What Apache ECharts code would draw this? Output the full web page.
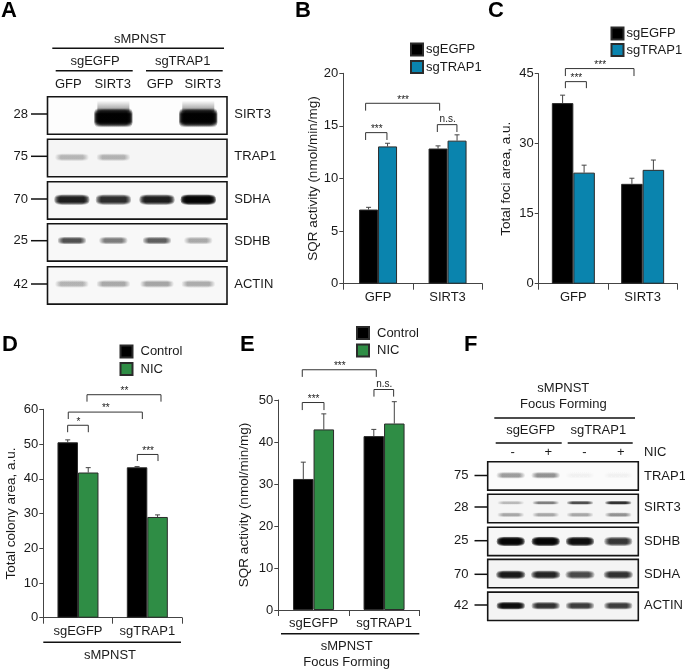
<!DOCTYPE html>
<html><head><meta charset="utf-8">
<style>html,body{margin:0;padding:0;background:#fff}#c{width:685px;height:670px;filter:blur(0.45px)}</style>
<script src="https://cdn.jsdelivr.net/npm/echarts@6/dist/echarts.min.js"></script>
</head><body><div id="c"></div>
<script>
// ---------- data ----------
const gfpSirt3 = ['GFP', 'SIRT3'];
const guides = ['sgEGFP', 'sgTRAP1'];

const bEgfp = [7.05, 12.85];
const bTrap = [13.05, 13.6];
const bEgfpTop = [7.26, 13.1];
const bTrapTop = [13.35, 14.15];
const bBrackets = [[0.321, 1.386, 17.15, 16.45, '***'], [0.321, 0.628, 14.36, 13.66, '***'], [1.353, 1.635, 15.12, 14.42, 'n.s.']];

const cEgfp = [38.7, 21.4];
const cTrap = [23.8, 24.4];
const cEgfpTop = [40.4, 22.6];
const cTrapTop = [25.4, 26.5];
const cBrackets = [[0.385, 1.375, 46.1, 44.5, '***'], [0.385, 0.688, 43.3, 41.9, '***']];

const dControl = [50.5, 43.3];
const dNic = [41.8, 29.0];
const dControlTop = [51.2, 43.5];
const dNicTop = [43.2, 29.6];
const dBrackets = [[0.63, 1.697, 64.2, 62.2, '**'], [0.36, 1.428, 59.2, 57.2, '**'], [0.351, 0.649, 55.4, 53.4, '*'], [1.356, 1.654, 47.0, 45.1, '***']];

const eControl = [31.2, 41.4];
const eNic = [43.0, 44.4];
const eControlTop = [35.2, 43.0];
const eNicTop = [46.7, 49.6];
const eBrackets = [[0.34, 1.39, 57.2, 55.5, '***'], [0.34, 0.648, 49.4, 47.6, '***'], [1.357, 1.636, 52.5, 50.8, 'n.s.']];

// western blot band intensities per lane (0..1)
const aProteins = ['SIRT3', 'TRAP1', 'SDHA', 'SDHB', 'ACTIN'];
const aMarkers = ['28', '75', '70', '25', '42'];
const aSirt3 = [0, 1, 0, 1];
const aTrap1 = [0.26, 0.28, 0, 0];
const aSdha = [0.88, 0.82, 0.88, 0.98];
const aSdhb = [0.68, 0.5, 0.62, 0.32];
const aActin = [0.27, 0.32, 0.34, 0.3];

const fProteins = ['TRAP1', 'SIRT3', 'SDHB', 'SDHA', 'ACTIN'];
const fMarkers = ['75', '28', '25', '70', '42'];
const fTrap1 = [0.38, 0.42, 0.03, 0.03];
const fSirt3Upper = [0.25, 0.48, 0.68, 0.8];
const fSirt3Lower = [0.32, 0.32, 0.32, 0.4];
const fSdhb = [0.98, 0.98, 0.95, 0.78];
const fSdha = [0.9, 0.85, 0.7, 0.8];
const fActin = [0.95, 0.8, 0.75, 0.75];

// ---------- layout + styles ----------
const FONT = '"Liberation Sans", Arial, sans-serif';
const BLACK = '#000000', TEAL = '#0a84ae', GREEN = '#2f8d45', INK = '#1a1a1a', AXIS = '#444';
const grids = [], xAxes = [], yAxes = [], series = [], legends = [], gfx = [];

function text(x, y, s, o) {
  gfx.push({type: 'text', x, y, silent: true, style: Object.assign({text: s, fill: INK, font: '13px ' + FONT, textAlign: 'center', textVerticalAlign: 'middle'}, o || {})});
}
function line(x1, y1, x2, y2, w, c) {
  gfx.push({type: 'line', silent: true, shape: {x1, y1, x2, y2}, style: {stroke: c || '#111', lineWidth: w || 1.5}});
}
function barPanel(p) {
  const gi = grids.length, xi = xAxes.length, yi = yAxes.length;
  grids.push({left: p.left, top: p.top, width: p.width, height: p.height});
  xAxes.push({gridIndex: gi, type: 'category', data: p.cats, axisLine: {show: true, lineStyle: {color: AXIS, width: 1}},
    axisTick: {show: true, length: 6, lineStyle: {color: AXIS}}, axisLabel: {interval: 0, hideOverlap: false, color: INK, fontSize: 13, fontFamily: FONT, margin: p.labelMargin}});
  xAxes.push({gridIndex: gi, type: 'value', min: 0, max: 2, show: false});
  yAxes.push({gridIndex: gi, type: 'value', min: 0, max: p.max, interval: p.interval, name: p.name, nameLocation: 'middle', nameGap: p.nameGap,
    nameTextStyle: {color: INK, fontSize: 13.5, fontFamily: FONT},
    splitLine: {show: false}, axisLine: {show: true, onZero: false, lineStyle: {color: AXIS, width: 1}}, axisTick: {show: true, length: 4, lineStyle: {color: AXIS}},
    axisLabel: {color: INK, fontSize: 13, fontFamily: FONT, margin: 5}});
  p.bars.forEach((b, k) => {
    series.push({type: 'bar', name: b.name, xAxisIndex: xi, yAxisIndex: yi, data: b.values, barWidth: p.barWidth, barGap: 0,
      itemStyle: {color: b.color, borderColor: '#2b2b2b', borderWidth: 1}, z: 2});
    const sign = k === 0 ? -1 : 1;
    series.push({type: 'custom', name: b.name + ' err', xAxisIndex: xi, yAxisIndex: yi, silent: true, z: 1,
      data: b.tops.map((t, i) => [i, t, b.values[i]]), encode: {x: 0, y: 1},
      renderItem(params, api) {
        const top = api.coord([api.value(0), api.value(1)]), base = api.coord([api.value(0), api.value(2)]);
        const x = top[0] + sign * p.barWidth / 2;
        const st = {stroke: '#444', lineWidth: 1, fill: null};
        return {type: 'group', children: [
          {type: 'line', shape: {x1: x, y1: top[1], x2: x, y2: base[1]}, style: st},
          {type: 'line', shape: {x1: x - 2.5, y1: top[1], x2: x + 2.5, y2: top[1]}, style: st}]};
      }});
  });
  series.push({type: 'custom', name: 'brackets', xAxisIndex: xi + 1, yAxisIndex: yi, silent: true, z: 3,
    data: p.brackets.map(b => [b[0], b[2], b[1], b[3]]), encode: {x: 0, y: 1},
    renderItem(params, api) {
      const b = p.brackets[params.dataIndex];
      const a = api.coord([b[0], b[2]]), c = api.coord([b[1], b[2]]), d = api.coord([b[0], b[3]]);
      const ns = b[4] === 'n.s.';
      return {type: 'group', children: [
        {type: 'polyline', shape: {points: [[a[0], d[1]], a, c, [c[0], d[1]]]}, style: {stroke: '#333', lineWidth: 1, fill: null}},
        {type: 'text', style: {text: b[4], x: (a[0] + c[0]) / 2 + 0.5, y: a[1] + (ns ? -5 : -3.5), fill: INK, font: '10px ' + FONT, textAlign: 'center', textVerticalAlign: 'middle'}}]};
    }});
  legends.push(Object.assign({data: p.bars.map(b => ({name: b.name, icon: 'rect'})), orient: 'vertical', padding: 0, itemWidth: 12, itemHeight: 12, itemGap: p.legendGap, selectedMode: false,
    textStyle: {color: INK, fontSize: 13, fontFamily: FONT, padding: [0, 0, 0, p.legendPad]}}, p.legend));
}
function blot(box, layers, lanes, bg) {
  const gi = grids.length, xi = xAxes.length, yi = yAxes.length;
  grids.push({show: true, left: box[0], top: box[1], width: box[2], height: box[3], borderColor: '#141414', borderWidth: 1.6, backgroundColor: bg || '#fbfbfb'});
  xAxes.push({gridIndex: gi, type: 'value', min: 0, max: 1, show: false});
  yAxes.push({gridIndex: gi, type: 'value', min: 0, max: 1, show: false});
  const G = echarts.graphic.LinearGradient;
  layers.forEach(l => {
    series.push({type: 'custom', name: 'band', xAxisIndex: xi, yAxisIndex: yi, silent: true, z: 2,
      data: l.v.map((v, i) => [lanes[i], l.y, v]), encode: {x: 0, y: 1},
      renderItem(params, api) {
        const c = api.coord([api.value(0), api.value(1)]), v = api.value(2);
        if (v <= 0) return {type: 'group', children: []};
        const w = l.w, h = l.h, kids = [];
        const N = 5;
        const a = 1 - Math.pow(1 - Math.min(v, 0.995), 1 / N);
        const rgba = al => 'rgba(0,0,0,' + al + ')';
        if (h > 12) {
          kids.push({type: 'rect', shape: {x: c[0] - w / 2 + 3, y: c[1] - h / 2 - 7, width: w - 6, height: 11},
            style: {fill: new G(0, 0, 0, 1, [{offset: 0, color: rgba(0)}, {offset: 1, color: rgba(0.45)}])}});
        }
        for (let k = 0; k < N; k++) {
          const ww = w - k * 2.4, hh = h - k * (h > 12 ? 0.6 : 0);
          kids.push({type: 'rect', shape: {x: c[0] - ww / 2, y: c[1] - hh / 2, width: ww, height: hh, r: Math.min(hh / 2, 5)},
            style: {fill: new G(0, 0, 0, 1, [{offset: 0, color: rgba(0)}, {offset: 0.32, color: rgba(a)}, {offset: 0.68, color: rgba(a)}, {offset: 1, color: rgba(0)}])}});
        }
        return {type: 'group', children: kids};
      }});
  });
}

// ---------- panel letters ----------
[['A', 1, 10.5], ['B', 295, 10.5], ['C', 488, 10.5], ['D', 2, 345], ['E', 240, 344.5], ['F', 464, 345]].forEach(l =>
  text(l[1], l[2], l[0], {font: 'bold 22px ' + FONT, textAlign: 'left', fill: '#000'}));

// ---------- panels B-E ----------
barPanel({left: 343.3, top: 73.3, width: 139, height: 210.4, cats: gfpSirt3, max: 20, interval: 5, name: 'SQR activity (nmol/min/mg)', nameGap: 21.5, barWidth: 19, labelMargin: 7, brackets: bBrackets,
  bars: [{name: 'sgEGFP', color: BLACK, values: bEgfp, tops: bEgfpTop}, {name: 'sgTRAP1', color: TEAL, values: bTrap, tops: bTrapTop}],
  legendPad: -2, legendGap: 3.5, legend: {left: 410, top: 42.5}});
barPanel({left: 538.7, top: 73.7, width: 138.6, height: 210, cats: gfpSirt3, max: 45, interval: 15, name: 'Total foci area, a.u.', nameGap: 25, barWidth: 21.5, labelMargin: 7, brackets: cBrackets,
  bars: [{name: 'sgEGFP', color: BLACK, values: cEgfp, tops: cEgfpTop}, {name: 'sgTRAP1', color: TEAL, values: cTrap, tops: cTrapTop}],
  legendPad: -2, legendGap: 2.5, legend: {left: 610.5, top: 26.5}});
barPanel({left: 43.3, top: 409.3, width: 138.7, height: 208.4, cats: guides, max: 60, interval: 10, name: 'Total colony area, a.u.', nameGap: 25, barWidth: 20.5, labelMargin: 7, brackets: dBrackets,
  bars: [{name: 'Control', color: BLACK, values: dControl, tops: dControlTop}, {name: 'NIC', color: GREEN, values: dNic, tops: dNicTop}],
  legendPad: 3, legendGap: 3.5, legend: {left: 119.5, top: 344.5}});
barPanel({left: 278.3, top: 400, width: 141, height: 210, cats: guides, max: 50, interval: 10, name: 'SQR activity (nmol/min/mg)', nameGap: 27, barWidth: 20.5, labelMargin: 7, brackets: eBrackets,
  bars: [{name: 'Control', color: BLACK, values: eControl, tops: eControlTop}, {name: 'NIC', color: GREEN, values: eNic, tops: eNicTop}],
  legendPad: 3, legendGap: 3.5, legend: {left: 356, top: 326}});

line(43.3, 642.3, 181, 642.3); text(110, 655, 'sMPNST');
line(281, 633.7, 419.3, 633.7); text(346.7, 646.5, 'sMPNST'); text(346.7, 662.5, 'Focus Forming');

// ---------- panel A ----------
const aLanes = [0.136, 0.367, 0.61, 0.84];
const aBoxes = [[47.5, 96.7, 179.5, 37.6], [47.5, 139.3, 179.5, 37.4], [47.5, 181.7, 179.5, 37.4], [47.5, 223.7, 179.5, 37.4], [47.5, 266.7, 179.5, 37.4]];
blot(aBoxes[0], [{v: aSirt3, y: 0.44, w: 38, h: 20}], aLanes, '#fdfdfd');
blot(aBoxes[1], [{v: aTrap1, y: 0.52, w: 33, h: 8}], aLanes, '#f5f5f5');
blot(aBoxes[2], [{v: aSdha, y: 0.52, w: 35, h: 11}], aLanes, '#f8f8f8');
blot(aBoxes[3], [{v: aSdhb, y: 0.55, w: 28, h: 8}], aLanes, '#f8f8f8');
blot(aBoxes[4], [{v: aActin, y: 0.54, w: 33, h: 8}], aLanes, '#f8f8f8');
text(140, 39, 'sMPNST'); line(52.3, 48.3, 224, 48.3);
text(95, 61.7, guides[0]); text(182.7, 61.7, guides[1]);
line(55.7, 70.7, 132.7, 70.7); line(146, 70.7, 222.7, 70.7);
[68.3, 112.7, 160, 202.7].forEach((x, i) => text(x, 84, ['GFP', 'SIRT3', 'GFP', 'SIRT3'][i]));
const aRowY = [114, 156.3, 199, 240.7, 284];
aRowY.forEach((y, i) => {
  text(28, y, aMarkers[i], {textAlign: 'right'});
  line(31, y, 47, y);
  text(234.3, y + 0.4, aProteins[i], {textAlign: 'left'});
});

// ---------- panel F ----------
const fLanes = [0.153, 0.385, 0.613, 0.867];
const fX = 487.7, fW = 150.6, fH = 28.4;
blot([fX, 461.7, fW, fH], [{v: fTrap1, y: 0.52, w: 28, h: 7}], fLanes, '#fbfbfb');
blot([fX, 494.3, fW, fH], [{v: fSirt3Upper, y: 0.7, w: 26, h: 4}, {v: fSirt3Lower, y: 0.28, w: 26, h: 5}], fLanes, '#f5f5f5');
blot([fX, 527.2, fW, fH], [{v: fSdhb, y: 0.5, w: 28, h: 10}], fLanes, '#f6f6f6');
blot([fX, 559.4, fW, fH], [{v: fSdha, y: 0.46, w: 29, h: 9}], fLanes, '#f4f4f4');
blot([fX, 592.1, fW, fH], [{v: fActin, y: 0.52, w: 28, h: 8}], fLanes, '#f4f4f4');
text(563.3, 388.5, 'sMPNST'); text(563.3, 404.7, 'Focus Forming');
line(494.3, 418, 635, 418);
text(530.7, 430.7, guides[0]); text(598.3, 430.7, guides[1]);
line(495.7, 443, 561.7, 443); line(567.7, 443, 632.7, 443);
[512.7, 548.3, 584.3, 620.7].forEach((x, i) => text(x, 452, ['-', '+', '-', '+'][i]));
text(644, 452, 'NIC', {textAlign: 'left'});
const fRowY = [475.5, 507, 540.7, 574.3, 605];
fRowY.forEach((y, i) => {
  text(468.5, y, fMarkers[i], {textAlign: 'right'});
  line(474.5, y, 487.7, y);
  text(644, y + 0.6, fProteins[i], {textAlign: 'left'});
});

const chart = echarts.init(document.getElementById('c'), null, {renderer: 'canvas', width: 685, height: 670});
chart.setOption({animation: false, backgroundColor: '#ffffff', tooltip: {show: false}, grid: grids, xAxis: xAxes, yAxis: yAxes, series, legend: legends, graphic: {elements: gfx}});
</script></body></html>
